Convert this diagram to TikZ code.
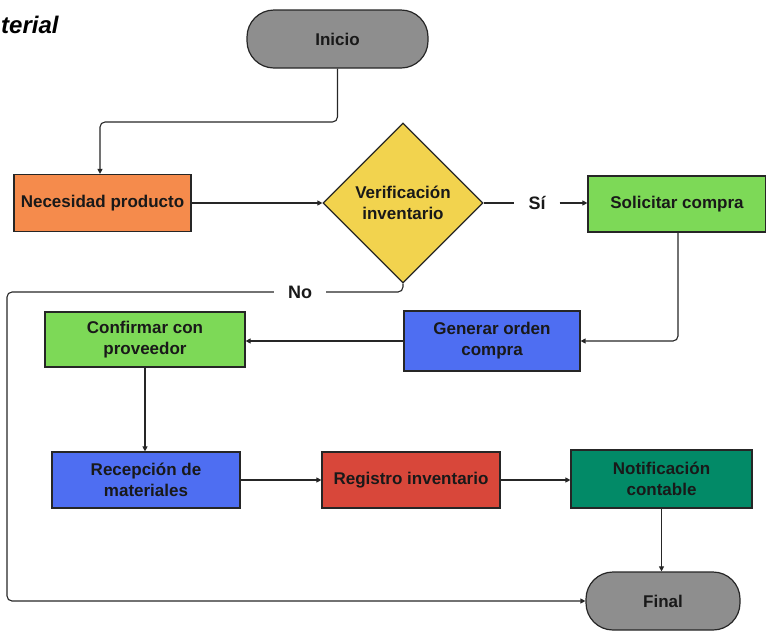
\documentclass[tikz,border=0pt]{standalone}
\usepackage{fontspec}
\setmainfont{Liberation Sans}
\usetikzlibrary{shapes.geometric,arrows.meta}
\definecolor{cgray}{HTML}{8E8E8E}
\definecolor{corange}{HTML}{F58B4C}
\definecolor{cyellow}{HTML}{F2D34E}
\definecolor{cgreen}{HTML}{7DD957}
\definecolor{cblue}{HTML}{4E6EF2}
\definecolor{cred}{HTML}{D8473A}
\definecolor{cteal}{HTML}{028A67}
\definecolor{cline}{HTML}{262626}
\tikzset{
  x=1pt, y=-1pt,
  txt/.style={font=\bfseries\fontsize{17}{21}\selectfont, text=black!90, align=center},
  box/.style={txt, draw=cline, line width=1.2pt, minimum width=#1, inner sep=0pt},
  terminal/.style={txt, draw=cline, line width=1.2pt, fill=cgray, rounded corners=27pt, inner sep=0pt},
  conn/.style={draw=cline, line width=1.1pt, rounded corners=5pt},
  arr/.style={conn, -{Triangle[length=5pt,width=5pt]}},
  lbl/.style={txt, font=\bfseries\fontsize{18}{21}\selectfont}
}
\begin{document}
\begin{tikzpicture}
\useasboundingbox (0,0) rectangle (766,633);
% title fragment
\node[anchor=west, font=\bfseries\itshape\fontsize{24}{28}\selectfont, inner sep=0pt] (title) at (1,25) {terial};

% nodes
\node[terminal, minimum width=181pt, minimum height=58pt] (inicio) at (337.5,39) {Inicio};
\node[box=177pt, minimum height=57pt, fill=corange] (nec) at (102.5,203) {Necesidad producto};
\node[draw=cline, line width=1.2pt, fill=cyellow, diamond, minimum width=160pt, minimum height=160pt, inner sep=0pt] (ver) at (403,203) {};
\node[txt] at (403,203) {Verificación\\inventario};
\node[box=178pt, minimum height=56pt, fill=cgreen] (sol) at (677,204) {Solicitar compra};
\node[box=176pt, minimum height=60pt, fill=cblue] (gen) at (492,341) {Generar orden\\compra};
\node[box=200pt, minimum height=55pt, fill=cgreen] (conf) at (145,339.5) {Confirmar con\\proveedor};
\node[box=188pt, minimum height=56pt, fill=cblue] (rec) at (146,480) {Recepción de\\materiales};
\node[box=178pt, minimum height=56pt, fill=cred] (reg) at (411,480) {Registro inventario};
\node[box=181pt, minimum height=58pt, fill=cteal] (not) at (661.5,479) {Notificación\\contable};
\node[terminal, minimum width=154pt, minimum height=58pt] (fin) at (663,601) {Final};

% labels on the decision branches
\node[lbl, inner sep=0pt] (si) at (537,203) {Sí};
\node[lbl, inner sep=0pt] (no) at (300,292) {No};
\coordinate (noL) at (7,292);

% connectors
\draw[arr] (inicio.south) |- (100,122) -- (nec.north -| 100,0);
\draw[arr] (nec.east) -- (ver.west);
\draw[conn] (ver.east) -- ([xshift=-14pt]si.west);
\draw[arr] ([xshift=14pt]si.east) -- (sol.west |- si.east);
\draw[arr] (sol.south -| 678,0) |- (gen.east);
\draw[arr] (gen.west) -- (conf.east |- gen.west);
\draw[arr] (conf.south) -- (rec.north -| conf.south);
\draw[arr] (rec.east) -- (reg.west);
\draw[arr] (reg.east) -- (not.west |- reg.east);
\draw[arr] (not.south) -- (fin.north -| not.south);
\draw[conn] (ver.south) |- ([xshift=14pt]no.east);
\draw[arr] ([xshift=-14pt]no.west) -- (noL) |- (fin.west);
\end{tikzpicture}
\end{document}
